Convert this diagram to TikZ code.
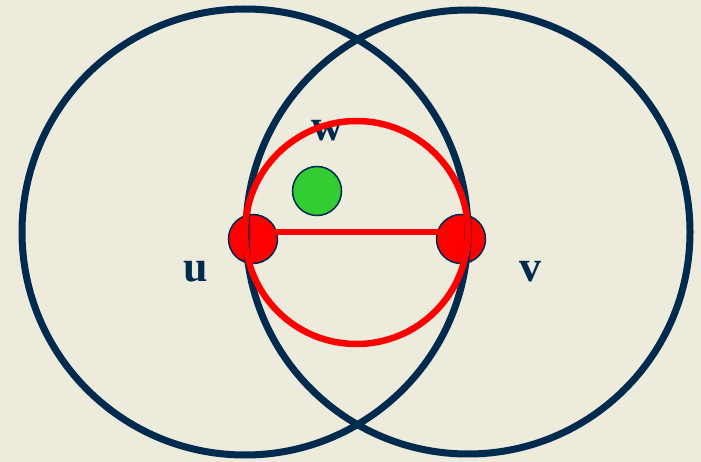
\documentclass[tikz,border=0pt]{standalone}
\usepackage{fontspec}
\setmainfont{Liberation Serif}
\definecolor{navy}{HTML}{002B4F}
\definecolor{bgc}{HTML}{ECEBDC}
\definecolor{dotred}{HTML}{FF0000}
\definecolor{dotgreen}{HTML}{33CC33}
\begin{document}
\begin{tikzpicture}[x=1pt,y=-1pt,
  bigcirc/.style={draw=navy,line width=7pt},
  redcirc/.style={draw=dotred,line width=6.5pt},
  dot/.style={circle,draw=navy,line width=1.5pt,minimum size=49pt,inner sep=0pt},
  lbl/.style={text=navy,font=\fontsize{44}{44}\selectfont\bfseries,inner sep=0pt}]
\useasboundingbox (0,0) rectangle (701,462);
\fill[bgc] (0,0) rectangle (701,462);
\node[lbl] (lw) at (327,131) {w};
\node[lbl] (lu) at (196,272) {u};
\node[lbl] (lv) at (530,272) {v};
\node[dot,fill=dotred] (u) at (253,239) {};
\node[dot,fill=dotred] (v) at (461,239) {};
\node[dot,fill=dotgreen] (w) at (317,191) {};
\draw[bigcirc] (245,232) circle (223);
\draw[bigcirc] (468,232) circle (222);
\coordinate (ul) at (253,232);
\coordinate (vl) at (461,232);
\draw[dotred,line width=6pt] (ul) -- (vl);
\draw[redcirc] (356.5,232.5) circle (111.5);
\end{tikzpicture}
\end{document}
